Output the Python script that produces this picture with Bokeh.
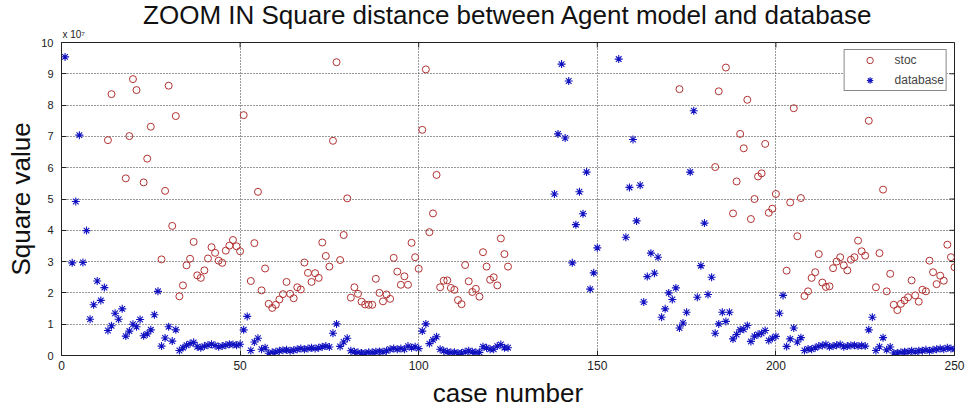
from bokeh.plotting import figure
from bokeh.models import Range1d, FixedTicker, LinearAxis, Legend
from bokeh.embed import file_html
from bokeh.resources import INLINE

# ---- data (values in units of 1e7) ----
x_ticks = [0, 50, 100, 150, 200, 250]
y_ticks = [0, 1, 2, 3, 4, 5, 6, 7, 8, 9, 10]

stoc_x = [13, 14, 18, 19, 20, 21, 23, 24, 25, 28, 29, 30, 31, 32, 33, 34, 35, 36, 37, 38,
          39, 40, 41, 42, 43, 44, 45, 46, 47, 48, 49, 50, 51, 53, 54, 55, 56, 57, 58, 59,
          60, 61, 62, 63, 64, 65, 66, 67, 68, 69, 70, 71, 72, 73, 74, 75, 76, 77, 78, 79,
          80, 81, 82, 83, 84, 85, 86, 87, 88, 89, 90, 91, 92, 93, 94, 95, 96, 97, 98, 99,
          100, 101, 102, 103, 104, 105, 106, 107, 108, 109, 110, 111, 112, 113, 114, 115,
          116, 117, 118, 119, 120, 121, 122, 123, 124, 125,
          173, 183, 184, 186, 188, 189, 190, 191, 192, 193, 194, 195, 196, 197, 198, 199,
          200, 203, 204, 205, 206, 207, 208, 209, 210, 211, 212, 213, 214, 215, 216, 217,
          218, 219, 220, 221, 222, 223, 224, 225, 226, 228, 229, 230, 231, 232, 233, 234,
          235, 236, 237, 238, 239, 240, 241, 242, 243, 244, 245, 246, 247, 248, 249, 250]
stoc_y = [6.88, 8.35, 5.66, 7.01, 8.83, 8.48, 5.53, 6.29, 7.31, 3.07, 5.26, 8.62, 4.14, 7.65, 1.89, 2.24, 2.88, 3.09, 3.63, 2.56,
          2.48, 2.72, 3.10, 3.46, 3.28, 3.03, 2.96, 3.35, 3.51, 3.69, 3.49, 3.33, 7.68, 2.38, 3.59, 5.23, 2.08, 2.78, 1.65, 1.52,
          1.62, 1.79, 1.96, 2.35, 1.97, 1.83, 2.18, 2.11, 2.97, 2.64, 2.35, 2.63, 2.48, 3.61, 3.18, 2.84, 6.86, 9.37, 3.05, 3.85,
          5.02, 1.85, 2.18, 1.97, 1.72, 1.63, 1.62, 1.62, 2.45, 2.00, 1.73, 1.95, 1.81, 3.12, 2.68, 2.26, 2.53, 2.26, 3.60, 3.14,
          2.77, 7.21, 9.14, 3.94, 4.54, 5.77, 2.18, 2.39, 2.40, 2.16, 2.10, 1.77, 1.64, 2.89, 2.37, 2.03,
          2.13, 1.88, 3.30, 2.84, 2.42, 2.50, 2.24, 3.74, 3.24, 2.84,
          8.51, 6.02, 8.44, 9.20, 4.54, 5.56, 7.08, 6.62, 8.17, 4.36, 5.00, 5.72, 5.82, 6.76, 4.56, 4.69,
          5.16, 2.71, 4.89, 7.90, 3.81, 5.03, 1.90, 2.05, 2.48, 2.66, 3.24, 2.33, 2.19, 2.21, 2.79, 3.00,
          3.14, 2.88, 2.72, 3.06, 3.14, 3.67, 3.33, 3.19, 7.50, 2.18, 3.27, 5.30, 2.05, 2.61, 1.62, 1.45,
          1.65, 1.76, 1.86, 2.40, 1.92, 1.72, 2.10, 2.05, 3.03, 2.66, 2.28, 2.55, 2.39, 3.54, 3.14, 2.82]

db_x = [1, 3, 4, 5, 6, 7, 8, 9, 10, 11, 12, 13, 14, 15, 16, 17, 18, 19, 20, 21,
        22, 23, 24, 25, 26, 27, 28, 29, 30, 31, 32, 33, 34, 35, 36, 37, 38, 39, 40, 41,
        42, 43, 44, 45, 46, 47, 48, 49, 50, 51, 52, 53, 54, 55, 56, 57, 58, 59, 60, 61,
        62, 63, 64, 65, 66, 67, 68, 69, 70, 71, 72, 73, 74, 75, 76, 77, 78, 79, 80, 81,
        82, 83, 84, 85, 86, 87, 88, 89, 90, 91, 92, 93, 94, 95, 96, 97, 98, 99, 100, 101,
        102, 103, 104, 105, 106, 107, 108, 109, 110, 111, 112, 113, 114, 115, 116, 117, 118, 119, 120, 121,
        122, 123, 124, 125,
        138, 139, 140, 141, 142, 143, 144, 145, 146, 147, 148, 149, 150, 156, 158, 159, 160, 161, 162, 163,
        164, 165, 166, 167, 168, 169, 170, 171, 172, 173, 174, 175, 176, 177, 178, 179, 180, 181, 182, 183,
        184, 185, 186, 187, 188, 189, 190, 191, 192, 193, 194, 195, 196, 197, 198, 199, 200, 201, 202, 203,
        204, 205, 206, 207, 208, 209, 210, 211, 212, 213, 214, 215, 216, 217, 218, 219, 220, 221, 222, 223,
        224, 225, 226, 227, 228, 229, 230, 231, 232, 233, 234, 235, 236, 237, 238, 239, 240, 241, 242, 243,
        244, 245, 246, 247, 248, 249, 250]
db_y = [9.54, 2.96, 4.92, 7.04, 2.97, 3.99, 1.16, 1.62, 2.38, 1.76, 2.17, 0.80, 0.95, 1.35, 1.16, 1.49, 0.62, 0.78, 1.00, 0.92,
        1.15, 0.63, 0.69, 0.82, 1.30, 2.05, 0.30, 0.56, 0.92, 0.46, 0.82, 0.16, 0.25, 0.33, 0.38, 0.42, 0.28, 0.25, 0.30, 0.33,
        0.36, 0.32, 0.28, 0.30, 0.33, 0.36, 0.35, 0.33, 0.36, 0.82, 1.25, 0.16, 0.43, 0.55, 0.20, 0.25, 0.07, 0.10, 0.12, 0.15,
        0.17, 0.18, 0.15, 0.17, 0.20, 0.22, 0.20, 0.22, 0.25, 0.22, 0.25, 0.28, 0.30, 0.27, 0.71, 1.01, 0.29, 0.43, 0.55, 0.15,
        0.12, 0.10, 0.08, 0.08, 0.10, 0.10, 0.12, 0.13, 0.12, 0.15, 0.20, 0.22, 0.20, 0.22, 0.20, 0.30, 0.25, 0.28, 0.22, 0.78,
        1.01, 0.38, 0.50, 0.60, 0.20, 0.15, 0.12, 0.10, 0.10, 0.08, 0.08, 0.12, 0.15, 0.12, 0.10, 0.10, 0.28, 0.25, 0.20, 0.20,
        0.30, 0.35, 0.25, 0.25,
        5.16, 7.08, 9.31, 6.95, 8.77, 2.96, 4.18, 5.23, 4.53, 5.86, 2.12, 2.64, 3.44, 9.47, 3.78, 5.37, 6.90, 4.30, 5.44, 1.71,
        2.52, 3.27, 2.63, 3.14, 1.22, 1.49, 2.00, 1.79, 2.16, 0.88, 1.04, 1.38, 5.86, 7.82, 1.86, 2.87, 4.23, 1.95, 2.50, 0.71,
        1.01, 1.38, 1.09, 1.38, 0.53, 0.67, 0.82, 0.84, 0.96, 0.45, 0.62, 0.67, 0.71, 0.80, 0.48, 0.55, 0.61, 1.35, 1.92, 0.29,
        0.53, 0.88, 0.43, 0.57, 0.16, 0.21, 0.20, 0.25, 0.30, 0.32, 0.35, 0.28, 0.30, 0.33, 0.35, 0.28, 0.30, 0.32, 0.33, 0.30,
        0.32, 0.30, 0.82, 1.22, 0.16, 0.28, 0.57, 0.18, 0.27, 0.08, 0.08, 0.10, 0.12, 0.12, 0.15, 0.12, 0.15, 0.15, 0.18, 0.15,
        0.18, 0.20, 0.22, 0.20, 0.25, 0.22, 0.20]

FONT = "Liberation Sans"
X_MAX, Y_MAX = 250, 10
FRAME_W, FRAME_H = 893, 313   # plot area in px
TICK_PX = 5

p = figure(width=967, height=410, output_backend="svg", toolbar_location=None,
           x_range=Range1d(0, X_MAX), y_range=Range1d(0, Y_MAX),
           min_border_left=61, min_border_right=13, min_border_top=42, min_border_bottom=55)

p.title.text = "ZOOM IN Square distance between Agent model and database"
p.title.text_font = FONT
p.title.text_font_size = "26px"
p.title.text_font_style = "normal"
p.title.align = "center"
p.title.standoff = -9
p.title.text_color = "#111111"

p.background_fill_color = "white"
p.outline_line_color = "#222222"
p.outline_line_width = 1

for ax in (p.xaxis[0], p.yaxis[0]):
    ax.major_tick_in = TICK_PX
    ax.major_tick_out = 0
    ax.minor_tick_line_color = None
    ax.axis_line_color = "#222222"
    ax.major_tick_line_color = "#222222"
    ax.major_label_text_font = FONT
    ax.major_label_text_color = "#222222"
    ax.axis_label_text_font = FONT
    ax.axis_label_text_font_size = "26px"
    ax.axis_label_text_font_style = "normal"
    ax.axis_label_text_color = "#111111"

p.xaxis[0].ticker = FixedTicker(ticks=x_ticks)
p.yaxis[0].ticker = FixedTicker(ticks=y_ticks)
p.xaxis[0].major_label_text_font_size = "12px"
p.yaxis[0].major_label_text_font_size = "11px"
p.xaxis[0].major_label_standoff = 5
p.yaxis[0].major_label_standoff = 8
p.xaxis[0].axis_label = "case number"
p.yaxis[0].axis_label = "Square value"
p.xaxis[0].axis_label_standoff = 5
p.yaxis[0].axis_label_standoff = 2

# exponent marker above the y axis (top axis carrying one label, no tick)
top = LinearAxis(ticker=FixedTicker(ticks=[3.4]), major_label_overrides={3.4: "x 10\u2077"},
                 major_tick_in=0, major_tick_out=0, minor_tick_line_color=None,
                 major_tick_line_color=None, axis_line_color=None,
                 major_label_text_font=FONT, major_label_text_font_size="10px",
                 major_label_text_color="#222222", major_label_standoff=3)
p.add_layout(top, "above")

# inward tick marks on top and right borders
dx = TICK_PX * X_MAX / FRAME_W
dy = TICK_PX * Y_MAX / FRAME_H
p.segment(x0=x_ticks, y0=[Y_MAX] * len(x_ticks), x1=x_ticks, y1=[Y_MAX - dy] * len(x_ticks),
          line_color="#222222", line_width=1)
p.segment(x0=[X_MAX] * len(y_ticks), y0=y_ticks, x1=[X_MAX - dx] * len(y_ticks), y1=y_ticks,
          line_color="#222222", line_width=1)

p.xgrid.ticker = FixedTicker(ticks=x_ticks)
p.ygrid.ticker = FixedTicker(ticks=y_ticks)
for g in (p.xgrid[0], p.ygrid[0]):
    g.grid_line_color = "#333333"
    g.grid_line_dash = "1 2"
    g.grid_line_width = 1

r_stoc = p.scatter(stoc_x, stoc_y, marker="circle", size=7, fill_color=None,
                   line_color="#b23232", line_width=1)
r_db = p.scatter(db_x, db_y, marker="asterisk", size=8, line_color="#1212c0", line_width=1.1)

legend = Legend(items=[("stoc", [r_stoc]), ("database", [r_db])], location="top_right",
                margin=7, padding=2, spacing=4, glyph_height=16, label_height=16,
                glyph_width=46, label_standoff=2, border_line_color="#111111",
                border_line_width=1, label_text_font=FONT, label_text_font_size="12px",
                background_fill_color="white", background_fill_alpha=1)
p.add_layout(legend, "center")

open("out.html", "w").write(file_html(p, INLINE))
